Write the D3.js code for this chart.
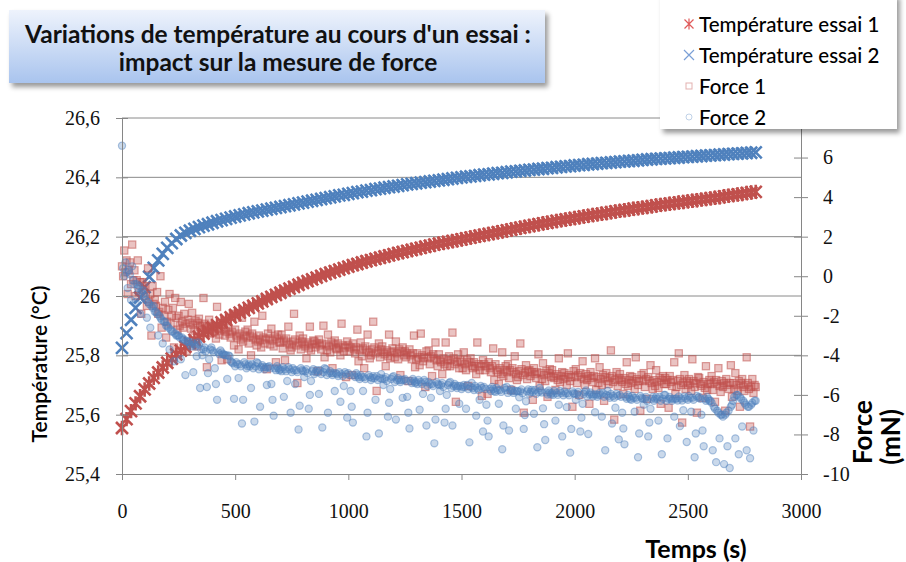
<!DOCTYPE html>
<html>
<head>
<meta charset="utf-8">
<script src="https://cdn.jsdelivr.net/npm/d3@7"></script>
<style>
  body { margin: 0; background: #fff; }
  svg { display: block; }
</style>
</head>
<body>
<div id="chart"></div>
<script>
const tempStep = 20;
const forceStep = 5;

const temp1 = [25.555,25.585,25.612,25.638,25.662,25.685,
  25.705,25.724,25.742,25.759,25.775, 25.789,25.803,25.816,25.829,25.841,
  25.852,25.863,25.873,25.883,25.893, 25.902,25.911,25.919,25.928,25.936,
  25.944,25.952,25.96,25.967,25.975, 25.982,25.99,25.997,26.004,26.011,
  26.018,26.025,26.031,26.038,26.044, 26.05,26.056,26.062,26.068,26.074,
  26.079,26.084,26.089,26.094,26.099, 26.104,26.108,26.113,26.117,26.121,
  26.125,26.129,26.133,26.137,26.141, 26.145,26.148,26.152,26.155,26.159,
  26.162,26.166,26.169,26.173,26.176, 26.179,26.182,26.185,26.188,26.191,
  26.194,26.197,26.2,26.203,26.206, 26.209,26.212,26.215,26.218,26.221,
  26.224,26.227,26.23,26.233,26.236, 26.239,26.242,26.245,26.247,26.25,
  26.253,26.255,26.258,26.26,26.263, 26.265,26.268,26.27,26.273,26.275,
  26.277,26.28,26.282,26.285,26.287, 26.289,26.291,26.294,26.296,26.298,
  26.3,26.302,26.305,26.307,26.309, 26.311,26.313,26.315,26.317,26.319,
  26.321,26.323,26.325,26.327,26.329, 26.331,26.333,26.336,26.338,26.34,
  26.342,26.344,26.347,26.349,26.351];

const temp2 = [25.825,25.875,25.92,25.96,25.995,26.03,26.065,26.095,26.12,26.142,
  26.162,26.178,26.192,26.204,26.213,26.22,26.226,26.232,26.237,26.242,
  26.247,26.252,26.256,26.26,26.264,26.268,26.272,26.275,26.279,26.282,
  26.285,
  26.288,26.291,26.294,26.297,26.3, 26.303,26.306,26.309,26.312,26.315,
  26.318,26.321,26.324,26.327,26.33, 26.333,26.336,26.339,26.341,26.344,
  26.347,26.35,26.352,26.355,26.357, 26.36,26.362,26.365,26.367,26.369,
  26.371,26.374,26.376,26.378,26.38, 26.382,26.384,26.386,26.388,26.39,
  26.392,26.394,26.396,26.398,26.4, 26.402,26.403,26.405,26.407,26.409,
  26.41,26.412,26.414,26.415,26.417, 26.419,26.42,26.422,26.423,26.425,
  26.426,26.428,26.429,26.431,26.432, 26.434,26.435,26.437,26.438,26.44,
  26.441,26.442,26.444,26.445,26.446, 26.448,26.449,26.45,26.451,26.453,
  26.454,26.455,26.456,26.457,26.459, 26.46,26.461,26.462,26.463,26.464,
  26.465,26.466,26.467,26.468,26.469, 26.47,26.471,26.472,26.473,26.474,
  26.475,26.476,26.477,26.478,26.479, 26.48,26.481,26.482,26.483,26.484];

// one row = 50 s
const force1 = [
  0.5,0.0,1.3,0.2,0.8,-0.9,0.3,0.7,-0.4,1.6,
  -0.2,0.3,-1.0,-0.2,0.8,-0.8,-0.3,-1.9,-0.3,-0.7,
  -0.5,-1.0,-1.5,0.4,-1.3,-0.9,-3.0,-0.5,-1.4,-1.2,
  -1.5,-0.8,-1.9,-1.8,0.0,-2.6,-1.6,-2.0,-1.3,-3.1,
  -2.3,-1.7,-0.9,-2.4,-2.0,-1.6,-3.6,-1.1,-2.1,-2.7,
  -2.0,-2.5,-1.3,-2.3,-2.6,-1.9,-2.4,-3.8,-2.2,-1.4,
  -2.35,-2.65,-1.85,-2.45,-2.75,-2.25,-3.55,-2.35,-2.15,-2.55,
  -2.8,-2.5,-1.1,-2.4,-2.7,-4.6,-2.6,-2.2,-2.9,-2.5,
  -2.85,-2.55,-2.75,-3.15,-1.55,-2.65,-2.95,-2.75,-4.25,-2.45,
  -2.7,-3.0,-2.8,-4.2,-2.6,-2.9,-3.1,-2.8,-1.9,-3.5,
  -2.7,-3.0,-3.1,-3.7,-2.9,-3.2,-2.1,-3.3,-3.0,-2.8,
  -3.1,-2.7,-3.4,-3.0,-4.0,-2.9,-3.1,-2.3,-3.2,-3.5,
  -3.3,-3.0,-3.2,-3.6,-2.0,-3.1,-3.4,-3.2,-4.7,-2.9,
  -3.15,-3.45,-2.65,-3.25,-3.55,-3.05,-4.35,-3.15,-2.95,-3.35,
  -3.35,-2.95,-3.65,-3.25,-4.25,-3.15,-3.35,-2.55,-3.45,-3.75,
  -3.6,-3.3,-1.9,-3.2,-3.5,-5.4,-3.4,-3.0,-3.7,-3.3,
  -3.15,-3.45,-3.55,-4.15,-3.35,-3.65,-2.55,-3.75,-3.45,-3.25,
  -3.3,-3.6,-3.4,-4.8,-3.2,-3.5,-3.7,-3.4,-2.5,-4.1,
  -3.45,-3.75,-2.95,-3.55,-3.85,-3.35,-4.65,-3.45,-3.25,-3.65,
  -3.7,-3.4,-3.6,-4.0,-2.4,-3.5,-3.8,-3.6,-5.1,-3.3,
  -3.5,-3.8,-3.6,-5.0,-3.4,-3.7,-3.9,-3.6,-2.7,-4.3,
  -3.75,-3.35,-4.05,-3.65,-4.65,-3.55,-3.75,-2.95,-3.85,-4.15,
  -4.0,-3.7,-2.3,-3.6,-3.9,-5.8,-3.8,-3.4,-4.1,-3.7,
  -3.55,-3.85,-3.95,-4.55,-3.75,-4.05,-2.95,-4.15,-3.85,-3.65,
  -3.8,-4.1,-3.3,-3.9,-4.2,-3.7,-5.0,-3.8,-3.6,-4.0,
  -3.8,-4.1,-3.9,-5.3,-3.7,-4.0,-4.2,-3.9,-3.0,-4.6,
  -4.2,-3.9,-4.1,-4.5,-2.9,-4.0,-4.3,-4.1,-5.6,-3.8,
  -4.15,-3.75,-4.45,-4.05,-5.05,-3.95,-4.15,-3.35,-4.25,-4.55,
  -3.95,-4.25,-4.35,-4.95,-4.15,-4.45,-3.35,-4.55,-4.25,-4.05,
  -4.55,-4.25,-2.85,-4.15,-4.45,-6.35,-4.35,-3.95,-4.65,-4.25,
  -4.35,-4.65,-3.85,-4.45,-4.75,-4.25,-5.55,-4.35,-4.15,-4.55,
  -4.65,-4.35,-4.55,-4.95,-3.35,-4.45,-4.75,-4.55,-6.05,-4.25,
  -4.45,-4.75,-4.55,-5.95,-4.35,-4.65,-4.85,-4.55,-3.65,-5.25,
  -4.45,-4.75,-4.85,-5.45,-4.65,-4.95,-3.85,-5.05,-4.75,-4.55,
  -4.85,-4.45,-5.15,-4.75,-5.75,-4.65,-4.85,-4.05,-4.95,-5.25,
  -5.1,-4.8,-3.4,-4.7,-5.0,-6.9,-4.9,-4.5,-5.2,-4.8,
  -4.75,-5.05,-4.85,-6.25,-4.65,-4.95,-5.15,-4.85,-3.95,-5.55,
  -4.9,-5.2,-4.4,-5.0,-5.3,-4.8,-6.1,-4.9,-4.7,-5.1,
  -4.75,-5.05,-5.15,-5.75,-4.95,-5.25,-4.15,-5.35,-5.05,-4.85,
  -5.2,-4.9,-5.1,-5.5,-3.9,-5.0,-5.3,-5.1,-6.6,-4.8,
  -5.1,-4.7,-5.4,-5.0,-6.0,-4.9,-5.1,-4.3,-5.2,-5.5,
  -4.95,-5.25,-5.05,-6.45,-4.85,-5.15,-5.35,-5.05,-4.15,-5.75,
  -5.1,-5.4,-4.6,-5.2,-5.5,-5.0,-6.3,-5.1,-4.9,-5.3,
  -5.45,-5.15,-3.75,-5.05,-5.35,-7.25,-5.25,-4.85,-5.55,-5.15,
  -4.95,-5.25,-5.35,-5.95,-5.15,-5.45,-4.35,-5.55,-5.25,-5.05,
  -5.4,-5.1,-5.3,-5.7,-4.1,-5.2,-5.5,-5.3,-6.8,-5.0,
  -5.3,-4.9,-5.6,-5.2,-6.2,-5.1,-5.3,-4.5,-5.4,-5.7,
  -5.25,-5.55,-4.75,-5.35,-5.65,-5.15,-6.45,-5.25,-5.05,-5.45,
  -5.15,-5.45,-5.25,-6.65,-5.05,-5.35,-5.55,-5.25,-4.35,-5.95,
  -5.6,-5.3,-3.9,-5.2,-5.5,-7.4,-5.4,-5.0,-5.7,-5.3,
  -5.5,-5.2,-5.4,-5.8,-4.2,-5.3,-5.6,-5.4,-6.9,-5.1,
  -5.15,-5.45,-5.55,-6.15,-5.35,-5.65,-4.55,-5.75,-5.45,-5.25,
  -5.45,-5.05,-5.75,-5.35,-6.35,-5.25,-5.45,-4.65,-5.55,-5.85,
  -5.3,-5.6,-5.4,-6.8,-5.2,-5.5,-5.7,-5.4,-4.5,-6.1,
  -5.4,-5.7,-4.9,-5.5,-5.8,-5.3,-6.6,-5.4,-5.2,-5.6,
  -5.8,-5.5,-4.1,-5.4,-5.7,-7.6,-5.6,-5.2,-5.9,-5.5,
  -5.6];

const force2 = [
  6.6,0.4,0.0,0.7,0.2,-0.6,0.3,0.1,-1.2,0.5,
  -0.2,-0.4,-1.3,-0.4,-0.6,-0.5,-1.9,-0.8,-0.7,-0.9,
  -1.0,-1.2,-2.1,-1.3,-1.4,-2.6,-1.5,-1.6,-1.5,-1.8,
  -1.8,-1.9,-3.0,-2.0,-2.1,-2.2,-3.4,-2.3,-2.3,-2.5,
  -2.5,-2.6,-3.7,-2.7,-2.8,-2.8,-4.3,-2.9,-3.0,-3.0,
  -3.0,-3.1,-4.2,-3.1,-3.2,-3.2,-5.0,-3.3,-3.3,-3.3,
  -3.45,-3.55,-3.35,-4.85,-3.45,-3.55,-4.05,-3.35,-3.45,-5.65,
  -3.7,-4.0,-3.7,-3.6,-3.8,-5.6,-4.9,-4.2,-3.7,-3.6,
  -3.75,-3.85,-4.65,-5.45,-6.25,-3.85,-3.95,-3.75,-3.85,-3.95,
  -3.95,-4.0,-4.0,-5.2,-4.0,-4.05,-4.3,-4.35,-4.4,-6.2,
  -4.55,-4.35,-4.45,-5.15,-4.45,-4.55,-7.45,-6.25,-4.35,-4.45,
  -4.65,-4.55,-4.45,-4.55,-5.65,-4.45,-4.65,-7.35,-4.55,-4.35,
  -4.4,-4.7,-6.6,-4.6,-4.5,-4.6,-4.7,-4.6,-5.5,-4.6,
  -4.55,-4.65,-5.45,-6.25,-7.05,-4.65,-4.75,-4.55,-4.65,-4.75,
  -4.7,-4.8,-4.6,-6.1,-4.7,-4.8,-5.3,-4.6,-4.7,-6.9,
  -4.85,-4.65,-4.75,-5.45,-4.75,-4.85,-7.75,-6.55,-4.65,-4.75,
  -4.8,-5.1,-4.8,-4.7,-4.9,-6.7,-6.0,-5.3,-4.8,-4.7,
  -4.95,-4.85,-4.75,-4.85,-5.95,-4.75,-4.95,-7.65,-4.85,-4.65,
  -4.7,-5.0,-6.9,-4.9,-4.8,-4.9,-5.0,-4.9,-5.8,-4.9,
  -4.95,-5.05,-4.85,-6.35,-4.95,-5.05,-5.55,-4.85,-4.95,-7.15,
  -4.9,-5.0,-5.8,-6.6,-7.4,-5.0,-5.1,-4.9,-5.0,-5.1,
  -5.2,-5.0,-5.1,-5.8,-5.1,-5.2,-8.1,-6.9,-5.0,-5.1,
  -5.25,-5.15,-5.05,-5.15,-6.25,-5.05,-5.25,-7.95,-5.15,-4.95,
  -5.2,-5.5,-5.2,-5.1,-5.3,-7.1,-6.4,-5.7,-5.2,-5.1,
  -5.05,-5.35,-7.25,-5.25,-5.15,-5.25,-5.35,-5.25,-6.15,-5.25,
  -5.2,-5.3,-6.1,-6.9,-7.7,-5.3,-5.4,-5.2,-5.3,-5.4,
  -5.35,-5.45,-5.25,-6.75,-5.35,-5.45,-5.95,-5.25,-5.35,-7.55,
  -5.55,-5.35,-5.45,-6.15,-5.45,-5.55,-8.45,-7.25,-5.35,-5.45,
  -5.5,-5.8,-5.5,-5.4,-5.6,-7.4,-6.7,-6.0,-5.5,-5.4,
  -5.35,-5.65,-7.55,-5.55,-5.45,-5.55,-5.65,-5.55,-6.45,-5.55,
  -5.7,-5.6,-5.5,-5.6,-6.7,-5.5,-5.7,-8.4,-5.6,-5.4,
  -5.65,-5.75,-5.55,-7.05,-5.65,-5.75,-6.25,-5.55,-5.65,-7.85,
  -5.6,-5.7,-6.5,-7.3,-8.1,-5.7,-5.8,-5.6,-5.7,-5.8,
  -5.85,-5.65,-5.75,-6.45,-5.75,-5.85,-8.75,-7.55,-5.65,-5.75,
  -5.6,-5.9,-7.8,-5.8,-5.7,-5.8,-5.9,-5.8,-6.7,-5.8,
  -5.82,-6.12,-5.82,-5.72,-5.92,-7.72,-7.02,-6.32,-5.82,-5.72,
  -5.95,-5.85,-5.75,-5.85,-6.95,-5.75,-5.95,-8.65,-5.85,-5.65,
  -5.78,-5.88,-6.68,-7.48,-8.28,-5.88,-5.98,-5.78,-5.88,-5.98,
  -5.9,-6.0,-5.8,-7.3,-5.9,-6.0,-6.5,-5.8,-5.9,-8.1,
  -6.02,-5.82,-5.92,-6.62,-5.92,-6.02,-8.92,-7.72,-5.82,-5.92,
  -5.95,-6.25,-5.95,-5.85,-6.05,-7.85,-7.15,-6.45,-5.95,-5.85,
  -5.78,-6.08,-7.98,-5.98,-5.88,-5.98,-6.08,-5.98,-6.88,-5.98,
  -6.1,-6.0,-5.9,-6.0,-7.1,-5.9,-6.1,-8.8,-6.0,-5.8,
  -6.05,-6.15,-5.95,-7.45,-6.05,-6.15,-6.65,-5.95,-6.05,-8.25,
  -6.0,-6.1,-6.9,-7.7,-8.5,-6.1,-6.2,-6.0,-6.1,-6.2,
  -6.25,-6.05,-6.15,-6.85,-6.15,-6.25,-9.15,-7.95,-6.05,-6.15,
  -6.2,-6.5,-6.2,-6.1,-6.3,-8.1,-7.4,-6.7,-6.2,-6.1,
  -6.3,-6.2,-6.1,-6.2,-7.3,-6.1,-6.3,-9.0,-6.2,-6.0,
  -6.0,-6.3,-8.2,-6.2,-6.1,-6.2,-6.3,-6.2,-7.1,-6.2,
  -6.18,-6.28,-6.08,-7.58,-6.18,-6.28,-6.78,-6.08,-6.18,-8.38,
  -6.25,-6.05,-6.15,-6.85,-6.15,-6.25,-9.15,-7.95,-6.05,-6.15,
  -6.1,-6.2,-7.0,-7.8,-8.6,-6.2,-6.3,-6.1,-6.2,-6.3,
  -6.3,-6.4,-8.8,-6.6,-6.7,-9.4,-6.8,-6.9,-8.2,-7.0,
  -7.0,-7.1,-9.5,-7.0,-6.9,-8.6,-6.8,-9.7,-6.6,-6.5,
  -6.3,-6.1,-8.2,-6.0,-6.0,-9.0,-6.1,-6.2,-7.6,-6.3,
  -6.4,-6.5,-8.8,-6.6,-6.6,-9.2,-6.5,-6.4,-7.8,-6.3,
  -6.3];

const xTicks = [0, 500, 1000, 1500, 2000, 2500, 3000];
const tempTicks = [25.4, 25.6, 25.8, 26, 26.2, 26.4, 26.6];
const forceTicks = [-10, -8, -6, -4, -2, 0, 2, 4, 6, 8];
const seriesNames = ['Température essai 1', 'Température essai 2', 'Force 1', 'Force 2'];
const titleLines = ["Variations de température au cours d'un essai :", 'impact sur la mesure de force'];

const RED = '#c0504d';
const BLUE = '#4f81bd';
const width = 906, height = 562;

const svg = d3.select('#chart').append('svg')
  .attr('width', width)
  .attr('height', height);

const defs = svg.append('defs');
defs.append('filter').attr('id', 'shadow')
  .attr('x', '-10%').attr('y', '-10%').attr('width', '130%').attr('height', '140%')
  .append('feDropShadow')
  .attr('dx', 3).attr('dy', 4).attr('stdDeviation', 2.5)
  .attr('flood-color', '#000').attr('flood-opacity', 0.4);
const grad = defs.append('linearGradient').attr('id', 'titleGrad')
  .attr('x1', 0).attr('y1', 0).attr('x2', 0).attr('y2', 1);
grad.append('stop').attr('offset', '0%').attr('stop-color', '#eef3fc');
grad.append('stop').attr('offset', '100%').attr('stop-color', '#a9c4ee');

const x = d3.scaleLinear().domain([0, 3000]).range([122, 801]);
const yT = d3.scaleLinear().domain([25.4, 26.6]).range([474, 118]);
const yF = d3.scaleLinear().domain([-10, 8]).range([474, 118]);

const plain = d => String(d).replace('.', ',');

// grid lines
svg.append('g').selectAll('line')
  .data(tempTicks.slice(1))
  .enter().append('line')
  .attr('x1', x(0)).attr('x2', x(3000))
  .attr('y1', d => yT(d)).attr('y2', d => yT(d))
  .attr('stroke', '#8a8a8a').attr('stroke-width', 1);

// marker shapes
const xPath = s => `M${-s},${-s}L${s},${s}M${-s},${s}L${s},${-s}`;
const starPath = s => xPath(s) + `M0,${-s * 1.2}L0,${s * 1.2}`;

function drawTemp(data, path, color) {
  svg.append('g').selectAll('path')
    .data(data)
    .enter().append('path')
    .attr('transform', (d, i) => `translate(${x(i * tempStep)},${yT(d)})`)
    .attr('d', path)
    .attr('fill', 'none')
    .attr('stroke', color)
    .attr('stroke-width', 2.6);
}
drawTemp(temp1, starPath(6), RED);
drawTemp(temp2, xPath(6), BLUE);

svg.append('g').selectAll('rect')
  .data(force1)
  .enter().append('rect')
  .attr('x', (d, i) => x(i * forceStep) - 3.6)
  .attr('y', d => yF(d) - 3.6)
  .attr('width', 7.2).attr('height', 7.2)
  .attr('fill', RED).attr('fill-opacity', 0.34)
  .attr('stroke', RED).attr('stroke-opacity', 0.55).attr('stroke-width', 1.2);

svg.append('g').selectAll('circle')
  .data(force2)
  .enter().append('circle')
  .attr('cx', (d, i) => x(i * forceStep))
  .attr('cy', d => yF(d))
  .attr('r', 3.6)
  .attr('fill', BLUE).attr('fill-opacity', 0.3)
  .attr('stroke', BLUE).attr('stroke-opacity', 0.45).attr('stroke-width', 1.2);

// axes
function styleAxis(g) {
  g.select('.domain').attr('stroke', '#868686');
  g.selectAll('.tick line').attr('stroke', '#868686');
  g.selectAll('.tick text')
    .attr('fill', '#111')
    .style('font-family', '"Liberation Serif", serif')
    .style('font-size', '20px');
}

svg.append('g')
  .attr('transform', `translate(${x(0)},0)`)
  .call(d3.axisLeft(yT).tickValues(tempTicks).tickFormat(plain).tickSize(6).tickPadding(16).tickSizeOuter(0))
  .call(styleAxis)
  .call(g => g.selectAll('.tick line').attr('x1', 6));

svg.append('g')
  .attr('transform', `translate(${x(3000)},0)`)
  .call(d3.axisRight(yF).tickValues(forceTicks).tickFormat(plain).tickSize(7).tickPadding(15).tickSizeOuter(0))
  .call(styleAxis)
  .call(g => g.selectAll('.tick line').attr('x1', -7));

svg.append('g')
  .attr('transform', `translate(0,${yT(25.4)})`)
  .call(d3.axisBottom(x).tickValues(xTicks).tickFormat(plain).tickSize(6).tickPadding(24).tickSizeOuter(0))
  .call(styleAxis);

// axis titles
const titleFont = 'Lato, "Open Sans", sans-serif';
svg.append('text')
  .attr('transform', 'translate(38,364) rotate(-90)')
  .attr('text-anchor', 'middle').attr('dominant-baseline', 'central')
  .style('font-family', titleFont).style('font-size', '21px').style('font-weight', 600)
  .text('Température (°C)');
svg.append('text')
  .attr('x', 696).attr('y', 548)
  .attr('text-anchor', 'middle').attr('dominant-baseline', 'central')
  .style('font-family', titleFont).style('font-size', '25px').style('font-weight', 700)
  .text('Temps (s)');
[['Force', 862, 432], ['(mN)', 890, 437]].forEach(([t, px, py]) => {
  svg.append('text')
    .attr('transform', `translate(${px},${py}) rotate(-90)`)
    .attr('text-anchor', 'middle').attr('dominant-baseline', 'central')
    .style('font-family', titleFont).style('font-size', '26px').style('font-weight', 700)
    .text(t);
});

// legend
const legend = svg.append('g');
legend.append('rect')
  .attr('x', 660).attr('y', -6).attr('width', 237).attr('height', 135)
  .attr('fill', '#fff').attr('filter', 'url(#shadow)');
const legendY = d3.scalePoint().domain(seriesNames).range([24, 117]);
const lx = 689;
seriesNames.forEach((name, i) => {
  const cy = legendY(name);
  if (i === 0) legend.append('path').attr('d', starPath(4.5)).attr('transform', `translate(${lx},${cy})`)
    .attr('stroke', '#e05a5a').attr('stroke-width', 1.2).attr('fill', 'none');
  if (i === 1) legend.append('path').attr('d', xPath(5)).attr('transform', `translate(${lx},${cy})`)
    .attr('stroke', '#7a9fd6').attr('stroke-width', 1.2).attr('fill', 'none');
  if (i === 2) legend.append('rect').attr('x', lx - 3).attr('y', cy - 3).attr('width', 6).attr('height', 6)
    .attr('fill', 'none').attr('stroke', RED).attr('stroke-opacity', 0.45);
  if (i === 3) legend.append('circle').attr('cx', lx).attr('cy', cy).attr('r', 3)
    .attr('fill', 'none').attr('stroke', BLUE).attr('stroke-opacity', 0.35);
  legend.append('text')
    .attr('x', 699).attr('y', cy)
    .attr('dominant-baseline', 'central')
    .style('font-family', titleFont).style('font-size', '20.5px').style('font-weight', 500)
    .text(name);
});

// title box
const title = svg.append('g');
title.append('rect')
  .attr('x', 9).attr('y', 10).attr('width', 536).attr('height', 73)
  .attr('fill', 'url(#titleGrad)').attr('filter', 'url(#shadow)');
title.selectAll('text')
  .data(titleLines)
  .enter().append('text')
  .attr('x', 278).attr('y', (d, i) => 33 + i * 28)
  .attr('text-anchor', 'middle').attr('dominant-baseline', 'central')
  .style('font-family', titleFont).style('font-size', '24.5px').style('font-weight', 700)
  .attr('fill', '#111')
  .text(d => d);
</script>
</body>
</html>
